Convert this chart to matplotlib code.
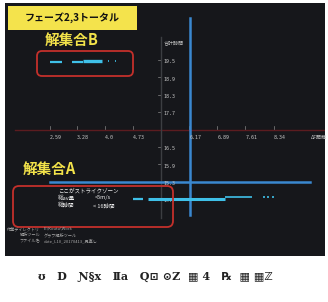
import matplotlib
matplotlib.use("Agg")
import matplotlib.pyplot as plt
from matplotlib.patches import FancyBboxPatch, Rectangle
from matplotlib.transforms import IdentityTransform

plt.rcParams["font.family"] = ["Noto Sans CJK JP", "DejaVu Sans"]

# ---- data ----
x_ticks = [2.59, 3.28, 4.0, 4.73, 6.17, 6.89, 7.61, 8.34]
x_tick_labels = ["2.59", "3.28", "4.0", "4.73", "6.17", "6.89", "7.61", "8.34"]
y_ticks = [19.5, 18.9, 18.3, 17.7, 16.5, 15.9, 15.3, 14.7]
y_tick_labels = ["19.5", "18.9", "18.3", "17.7", "16.5", "15.9", "15.3", "14.7"]
x_axis_at = 17.15   # y value where the horizontal axis sits
y_axis_at = 5.45    # x value where the vertical axis sits

# solution set B (segments of dense points)
b_start = [2.59, 3.16, 3.44, 4.07, 4.25]
b_end = [2.90, 3.44, 3.93, 4.10, 4.28]
b_y = [19.48, 19.50, 19.52, 19.52, 19.52]
b_width = [1.6, 1.6, 2.4, 1.2, 1.2]

# solution set A
a_start = [4.72, 5.11, 7.10, 8.07, 8.17, 8.30]
a_end = [4.98, 7.10, 7.78, 8.11, 8.21, 8.34]
a_y = [14.76, 14.78, 14.82, 14.84, 14.84, 14.84]
a_width = [1.6, 2.2, 1.2, 1.2, 1.2, 1.2]

# threshold lines
thr_x = 6.2
thr_y = 15.35

W, H = 328, 302
fig = plt.figure(figsize=(W / 100, H / 100), dpi=100)
fig.patch.set_facecolor("white")

ax = fig.add_axes([5 / W, (H - 256) / H, 320 / W, 253 / H])
ax.set_facecolor("#16171b")
ax.set_xlim(1.433, 9.659)
ax.set_ylim(12.80, 21.53)
ax.set_xticks([])
ax.set_yticks([])
for s in ax.spines.values():
    s.set_visible(False)

# axes lines
ax.plot([1.69, 9.66], [x_axis_at, x_axis_at], color="#5c1c20", lw=1.0, zorder=1)
ax.plot([y_axis_at, y_axis_at], [14.1, 20.35], color="#3c3e42", lw=1.0, zorder=1)

lab = dict(color="#c4c4c4", fontsize=3.6, family=["DejaVu Sans Mono"])
for v, t in zip(x_ticks, x_tick_labels):
    ax.plot([v, v], [x_axis_at + 0.02, x_axis_at + 0.12], color="#888888", lw=0.5)
    ax.annotate(t, (v, x_axis_at), xytext=(0, -4), textcoords="offset points",
                ha="left", va="top", **lab)
for v, t in zip(y_ticks, y_tick_labels):
    ax.plot([y_axis_at - 0.09, y_axis_at - 0.04], [v + 0.06, v + 0.06],
            color="#888888", lw=0.5)
    ax.annotate(t, (y_axis_at, v), xytext=(1.5, 0), textcoords="offset points",
                ha="left", va="center", **lab)
ax.annotate("合計時間", (y_axis_at, 20.15), xytext=(1.5, 0),
            textcoords="offset points", ha="left", va="center",
            color="#c4c4c4", fontsize=3.6)
ax.annotate("ΔF距離", (9.3, x_axis_at), xytext=(0, -4), textcoords="offset points",
            ha="left", va="top", color="#c4c4c4", fontsize=3.6)

# threshold lines
ax.plot([thr_x, thr_x], [14.22, 21.0], color="#3a88d0", lw=1.8, zorder=2)
ax.plot([2.59, 9.27], [thr_y, thr_y], color="#3a88d0", lw=1.8, zorder=2)

# data
for x0, x1, y, lw in zip(b_start, b_end, b_y, b_width):
    ax.plot([x0, x1], [y, y], color="#3fc0e8", lw=lw, solid_capstyle="butt", zorder=3)
for x0, x1, y, lw in zip(a_start, a_end, a_y, a_width):
    ax.plot([x0, x1], [y, y], color="#3fc0e8", lw=lw, solid_capstyle="butt", zorder=3)


def fy(py):
    return H - py


px = IdentityTransform()

# title tag
fig.add_artist(Rectangle((8, fy(30)), 129, 24, transform=px,
                         facecolor="#f4e34c", edgecolor="none"))
fig.text(72.5 / W, 1 - 18 / H, "フェーズ2,3トータル", ha="center", va="center",
         fontsize=7.2, fontweight="bold", color="#111111")

# red boxes
fig.add_artist(FancyBboxPatch((37, fy(76)), 96, 25, boxstyle="round,pad=0,rounding_size=5",
                              transform=px, facecolor="none", edgecolor="#c3302b", lw=1.3))
fig.add_artist(FancyBboxPatch((13, fy(227)), 160, 41, boxstyle="round,pad=0,rounding_size=6",
                              transform=px, facecolor="none", edgecolor="#c3302b", lw=1.3))

fig.text(72 / W, 1 - 40 / H, "解集合B", ha="center", va="center",
         fontsize=10.5, fontweight="bold", color="#f2e24a")
fig.text(49 / W, 1 - 169 / H, "解集合A", ha="center", va="center",
         fontsize=10.5, fontweight="bold", color="#f2e24a")

box_txt = dict(color="#ececec", fontsize=4.0, va="center")
fig.text(58 / W, 1 - 191 / H, "ここがストライクゾーン", ha="left", **box_txt)
fig.text(58 / W, 1 - 198 / H, "総av量", ha="left", **box_txt)
fig.text(95 / W, 1 - 198 / H, "<5m/s", ha="left", **box_txt)
fig.text(58 / W, 1 - 205 / H, "総時間", ha="left", **box_txt)
fig.text(93 / W, 1 - 205 / H, "< 16時間", ha="left", **box_txt)

foot = dict(color="#a8a8a8", fontsize=3.0, va="center")
fig.text(40 / W, 1 - 229 / H, "作業ディレクトリ", ha="right", **foot)
fig.text(44 / W, 1 - 229 / H, "E:\\Kouta\\Work", ha="left", **foot)
fig.text(40 / W, 1 - 235 / H, "解析ツール", ha="right", **foot)
fig.text(44 / W, 1 - 235 / H, "グラフ解析ツール", ha="left", **foot)
fig.text(40 / W, 1 - 241 / H, "ファイル名", ha="right", **foot)
fig.text(44 / W, 1 - 241 / H, "date_L10_20170413_見直し", ha="left", **foot)

# garbled caption under the screenshot
fig.text(155 / W, 1 - 276 / H, "ʊ   D   Ɲ§x   Ⅱa   Q⊡ ⊙Z  ▦ 4   ℞  ▦ ▦ℤ",
         ha="center", va="center", fontsize=8, fontweight="bold", color="#222222",
         family=["DejaVu Serif", "DejaVu Sans"])

fig.savefig("out.png", dpi=100, facecolor="white")
